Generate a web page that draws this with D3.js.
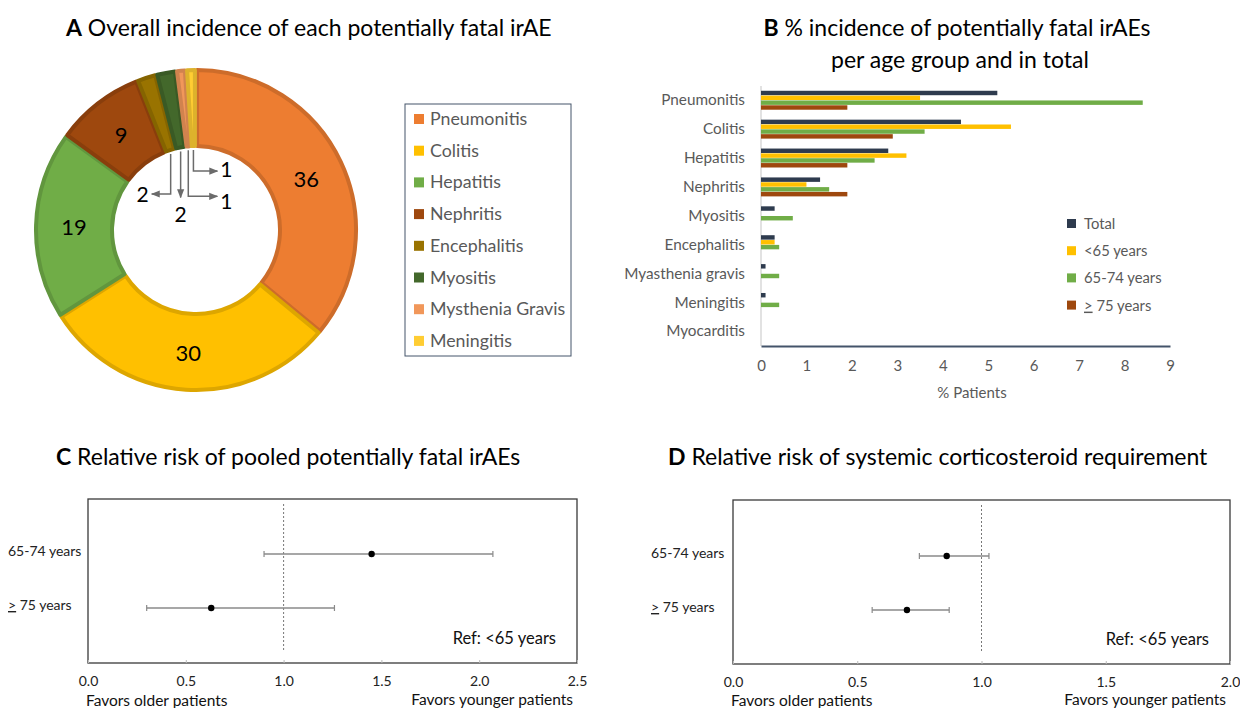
<!DOCTYPE html>
<html>
<head>
<meta charset="utf-8">
<script src="https://cdn.jsdelivr.net/npm/d3@7"></script>
<style>
  body { margin: 0; background: #fff; }
  svg { display: block; font-family: Lato, "Open Sans", sans-serif; }
</style>
</head>
<body>
<div id="chart"></div>
<script>
// ---- Daten ----
// Panel A: Donut
const donutLabels = ["Pneumonitis", "Colitis", "Hepatitis", "Nephritis", "Encephalitis", "Myositis", "Mysthenia Gravis", "Meningitis"];
const donutValues = [36, 30, 19, 9, 2, 2, 1, 1];
const donutColors = ["#ED7D31", "#FFC000", "#70AD47", "#9E480E", "#997300", "#43682B", "#F1975A", "#FFCD33"];

// Panel B: Balken
const barCategories = ["Pneumonitis", "Colitis", "Hepatitis", "Nephritis", "Myositis", "Encephalitis", "Myasthenia gravis", "Meningitis", "Myocarditis"];
const barSeries = ["Total", "<65 years", "65-74 years", "> 75 years"];
const totalPct   = [5.2, 4.4, 2.8, 1.3, 0.3, 0.3, 0.1, 0.1, 0];
const under65Pct = [3.5, 5.5, 3.2, 1.0, 0, 0.3, 0, 0, 0];
const age6574Pct = [8.4, 3.6, 2.5, 1.5, 0.7, 0.4, 0.4, 0.4, 0];
const over75Pct  = [1.9, 2.9, 1.9, 1.9, 0, 0, 0, 0, 0];
const barColors = ["#2E3B4E", "#FFC000", "#70AD47", "#9E480E"];
const barTicks = [0, 1, 2, 3, 4, 5, 6, 7, 8, 9];

// Panel C / D: Forest plots
const forestRows = ["65-74 years", "> 75 years"];
const rrFatal = [1.45, 0.63];
const lowFatal = [0.90, 0.30];
const highFatal = [2.07, 1.26];
const rrSteroid = [0.86, 0.70];
const lowSteroid = [0.75, 0.56];
const highSteroid = [1.03, 0.87];
const ticksC = [0, 0.5, 1.0, 1.5, 2.0, 2.5];
const ticksD = [0, 0.5, 1.0, 1.5, 2.0];

const width = 1240, height = 708;
const svg = d3.select("#chart").append("svg")
    .attr("width", width).attr("height", height)
    .attr("viewBox", `0 0 ${width} ${height}`);

svg.append("defs").append("marker")
    .attr("id", "arrow").attr("viewBox", "0 0 10 10")
    .attr("refX", 9).attr("refY", 5)
    .attr("markerWidth", 6).attr("markerHeight", 6)
    .attr("orient", "auto-start-reverse")
    .append("path").attr("d", "M0,1 L10,5 L0,9 Z").attr("fill", "#6b6b6b");

// Titel mit fettem Buchstaben
const title = (x, y, letter, txt, anchor = "start") => {
    const t = svg.append("text").attr("x", x).attr("y", y)
        .attr("text-anchor", anchor).attr("font-size", 23).attr("fill", "#000");
    t.append("tspan").attr("font-weight", "bold").text(letter);
    t.append("tspan").text(" " + txt);
};

// ================= Panel A =================
title(66, 36, "A", "Overall incidence of each potentially fatal irAE");

const cx = 196, cy = 230, rOut = 162, rIn = 82;
const pie = d3.pie().sort(null).value(d => d);
const arcs = pie(donutValues);
const arc = d3.arc().innerRadius(rIn + 2).outerRadius(rOut - 2).padAngle(0.012);
const gA = svg.append("g").attr("transform", `translate(${cx},${cy})`);
gA.selectAll("path.slice").data(arcs).join("path")
    .attr("class", "slice")
    .attr("d", arc)
    .attr("fill", (d, i) => donutColors[i])
    .attr("stroke", (d, i) => d3.color(donutColors[i]).darker(0.4))
    .attr("stroke-width", 4)
    .attr("stroke-linejoin", "round");

const labelArc = d3.arc().innerRadius(rIn).outerRadius(rOut);
gA.selectAll("text.big").data(arcs.filter(d => d.value >= 5)).join("text")
    .attr("class", "big")
    .attr("x", d => labelArc.centroid(d)[0])
    .attr("y", d => labelArc.centroid(d)[1] + 9)
    .attr("text-anchor", "middle").attr("font-size", 22).attr("fill", "#000")
    .text(d => d.value);

// Kleine Segmente: Führungslinien mit Pfeilen
const leader = [
    {drop: 40, dx: -19, lx: -9, ly: 8},
    {drop: 46, dx: 0, lx: 0, ly: 25},
    {drop: 46, dx: 29, lx: 9, ly: 13},
    {drop: 21, dx: 24, lx: 9, ly: 6}
];
arcs.filter(d => d.value < 5).forEach((d, k) => {
    const a = (d.startAngle + d.endAngle) / 2;
    const x0 = rIn * Math.sin(a), y0 = -rIn * Math.cos(a) + 2;
    const L = leader[k];
    const y1 = y0 + L.drop;
    const path = L.dx === 0
        ? `M${x0},${y0} V${y1}`
        : `M${x0},${y0} V${y1} H${x0 + L.dx}`;
    gA.append("path").attr("d", path).attr("fill", "none")
        .attr("stroke", "#6b6b6b").attr("stroke-width", 1.5)
        .attr("marker-end", "url(#arrow)");
    gA.append("text")
        .attr("x", x0 + L.dx + L.lx).attr("y", y1 + L.ly)
        .attr("text-anchor", "middle").attr("font-size", 21).attr("fill", "#000")
        .text(d.value);
});

// Legende A
svg.append("rect").attr("x", 405).attr("y", 104).attr("width", 166).attr("height", 252)
    .attr("fill", "#fff").attr("stroke", "#44546A").attr("stroke-width", 1);
const legA = svg.append("g").selectAll("g").data(donutLabels).join("g")
    .attr("transform", (d, i) => `translate(414, ${119 + i * 31.7})`);
legA.append("rect").attr("x", 0).attr("y", -5).attr("width", 10).attr("height", 10)
    .attr("fill", (d, i) => donutColors[i]);
legA.append("text").attr("x", 16).attr("y", 6).attr("font-size", 17.8).attr("fill", "#595959")
    .text(d => d);

// ================= Panel B =================
const tB = svg.append("text").attr("x", 957).attr("y", 36).attr("text-anchor", "middle")
    .attr("font-size", 23).attr("fill", "#000");
tB.append("tspan").attr("font-weight", "bold").text("B");
tB.append("tspan").text(" % incidence of potentially fatal irAEs");
svg.append("text").attr("x", 960).attr("y", 68).attr("text-anchor", "middle")
    .attr("font-size", 23).attr("fill", "#000").text("per age group and in total");

const xB = d3.scaleLinear().domain([0, 9]).range([761, 1170]);
const yB = d3.scaleBand().domain(barCategories).range([86, 346]).paddingInner(0.33).paddingOuter(0.165);
const ySub = d3.scaleBand().domain(barSeries).range([0, yB.bandwidth()]);
const seriesValues = [totalPct, under65Pct, age6574Pct, over75Pct];

const barData = [];
barCategories.forEach((c, i) => barSeries.forEach((s, j) => {
    barData.push({cat: c, series: s, value: seriesValues[j][i], color: barColors[j]});
}));

// linke Achse (hellgrau)
svg.append("line").attr("x1", xB(0)).attr("x2", xB(0)).attr("y1", 86).attr("y2", 346)
    .attr("stroke", "#D9D9D9").attr("stroke-width", 1.5);

svg.append("g").selectAll("rect").data(barData.filter(d => d.value > 0)).join("rect")
    .attr("x", xB(0))
    .attr("y", d => yB(d.cat) + ySub(d.series))
    .attr("width", d => xB(d.value) - xB(0))
    .attr("height", ySub.bandwidth() - 0.4)
    .attr("fill", d => d.color);

const axisB = d3.axisBottom(xB).tickValues(barTicks).tickSize(0).tickPadding(14);
const gAxB = svg.append("g").attr("transform", "translate(0,346)").call(axisB);
gAxB.select(".domain").attr("stroke", "#44546A").attr("stroke-width", 2);
gAxB.selectAll("text").attr("font-size", 15).attr("fill", "#595959").attr("font-family", "Lato, sans-serif");

const axisBL = d3.axisLeft(yB).tickSize(0).tickPadding(16);
const gAxBL = svg.append("g").attr("transform", `translate(${xB(0)},0)`).call(axisBL);
gAxBL.select(".domain").remove();
gAxBL.selectAll("text").attr("font-size", 15.3).attr("fill", "#595959").attr("font-family", "Lato, sans-serif");

svg.append("text").attr("x", 972).attr("y", 398).attr("text-anchor", "middle")
    .attr("font-size", 15).attr("fill", "#595959").text("% Patients");

// Legende B
const legB = svg.append("g").selectAll("g").data(barSeries).join("g")
    .attr("transform", (d, i) => `translate(1067, ${224 + i * 27.2})`);
legB.append("rect").attr("x", 0).attr("y", -5).attr("width", 9).attr("height", 9)
    .attr("fill", (d, i) => barColors[i]);
legB.each(function(d) {
    const t = d3.select(this).append("text").attr("x", 17).attr("y", 5)
        .attr("font-size", 14.8).attr("fill", "#595959");
    if (d.startsWith(">")) {
        t.append("tspan").attr("text-decoration", "underline").text(">");
        t.append("tspan").text(d.slice(1));
    } else t.text(d);
});

// ================= Panel C / D =================
const forest = (opt) => {
    const {x0, x1, y0, y1, domainMax, ticks, rr, low, high, rowY, labelX, letter, txt, titleX} = opt;
    title(titleX, 465, letter, txt);
    const x = d3.scaleLinear().domain([0, domainMax]).range([x0, x1]);
    const y = d3.scalePoint().domain(forestRows).range(rowY);
    const g = svg.append("g");
    g.append("rect").attr("x", x0).attr("y", y0).attr("width", x1 - x0).attr("height", y1 - y0)
        .attr("fill", "none").attr("stroke", "#3a3a3a").attr("stroke-width", 1.3);
    g.append("line").attr("x1", x(1)).attr("x2", x(1)).attr("y1", y0 + 5).attr("y2", y1 - 11)
        .attr("stroke", "#777").attr("stroke-width", 1).attr("stroke-dasharray", "2,2");

    const ax = d3.axisBottom(x).tickValues(ticks).tickFormat(d3.format(".1f")).tickSize(3).tickPadding(10);
    const gx = g.append("g").attr("transform", `translate(0,${y1})`).call(ax);
    gx.select(".domain").remove();
    gx.selectAll("line").attr("stroke", "#bbb").attr("transform", "translate(0,-3)");
    gx.selectAll("text").attr("font-size", 14).attr("fill", "#222").attr("font-family", "Lato, sans-serif");

    const rows = forestRows.map((r, i) => ({row: r, rr: rr[i], low: low[i], high: high[i]}));
    const rg = g.selectAll("g.row").data(rows).join("g").attr("class", "row");
    rg.append("line").attr("x1", d => x(d.low)).attr("x2", d => x(d.high))
        .attr("y1", d => y(d.row)).attr("y2", d => y(d.row))
        .attr("stroke", "#8a8a8a").attr("stroke-width", 1.5);
    rg.append("line").attr("x1", d => x(d.low)).attr("x2", d => x(d.low))
        .attr("y1", d => y(d.row) - 3).attr("y2", d => y(d.row) + 3)
        .attr("stroke", "#8a8a8a").attr("stroke-width", 1.2);
    rg.append("line").attr("x1", d => x(d.high)).attr("x2", d => x(d.high))
        .attr("y1", d => y(d.row) - 3).attr("y2", d => y(d.row) + 3)
        .attr("stroke", "#8a8a8a").attr("stroke-width", 1.2);
    rg.append("circle").attr("cx", d => x(d.rr)).attr("cy", d => y(d.row)).attr("r", 3.2).attr("fill", "#000");

    rg.each(function(d) {
        const t = d3.select(this).append("text").attr("x", labelX).attr("y", y(d.row) + 2)
            .attr("font-size", 14).attr("fill", "#222");
        if (d.row.startsWith(">")) {
            t.append("tspan").attr("text-decoration", "underline").text(">");
            t.append("tspan").text(d.row.slice(1));
        } else t.text(d.row);
    });

    g.append("text").attr("x", x1 - 21).attr("y", y1 - 19).attr("text-anchor", "end")
        .attr("font-size", 16.5).attr("fill", "#111").text("Ref: <65 years");
    g.append("text").attr("x", x0 - 2).attr("y", 706).attr("font-size", 15.5).attr("fill", "#111")
        .text("Favors older patients");
    g.append("text").attr("x", x1 - 4).attr("y", 705).attr("text-anchor", "end")
        .attr("font-size", 15.5).attr("fill", "#111").text("Favors younger patients");
};

forest({x0: 88, x1: 577, y0: 499, y1: 663, domainMax: 2.5, ticks: ticksC,
    rr: rrFatal, low: lowFatal, high: highFatal, rowY: [554, 608], labelX: 8,
    letter: "C", txt: "Relative risk of pooled potentially fatal irAEs", titleX: 56});
forest({x0: 733, x1: 1230, y0: 500, y1: 664, domainMax: 2.0, ticks: ticksD,
    rr: rrSteroid, low: lowSteroid, high: highSteroid, rowY: [556, 610], labelX: 651,
    letter: "D", txt: "Relative risk of systemic corticosteroid requirement", titleX: 668});
</script>
</body>
</html>
